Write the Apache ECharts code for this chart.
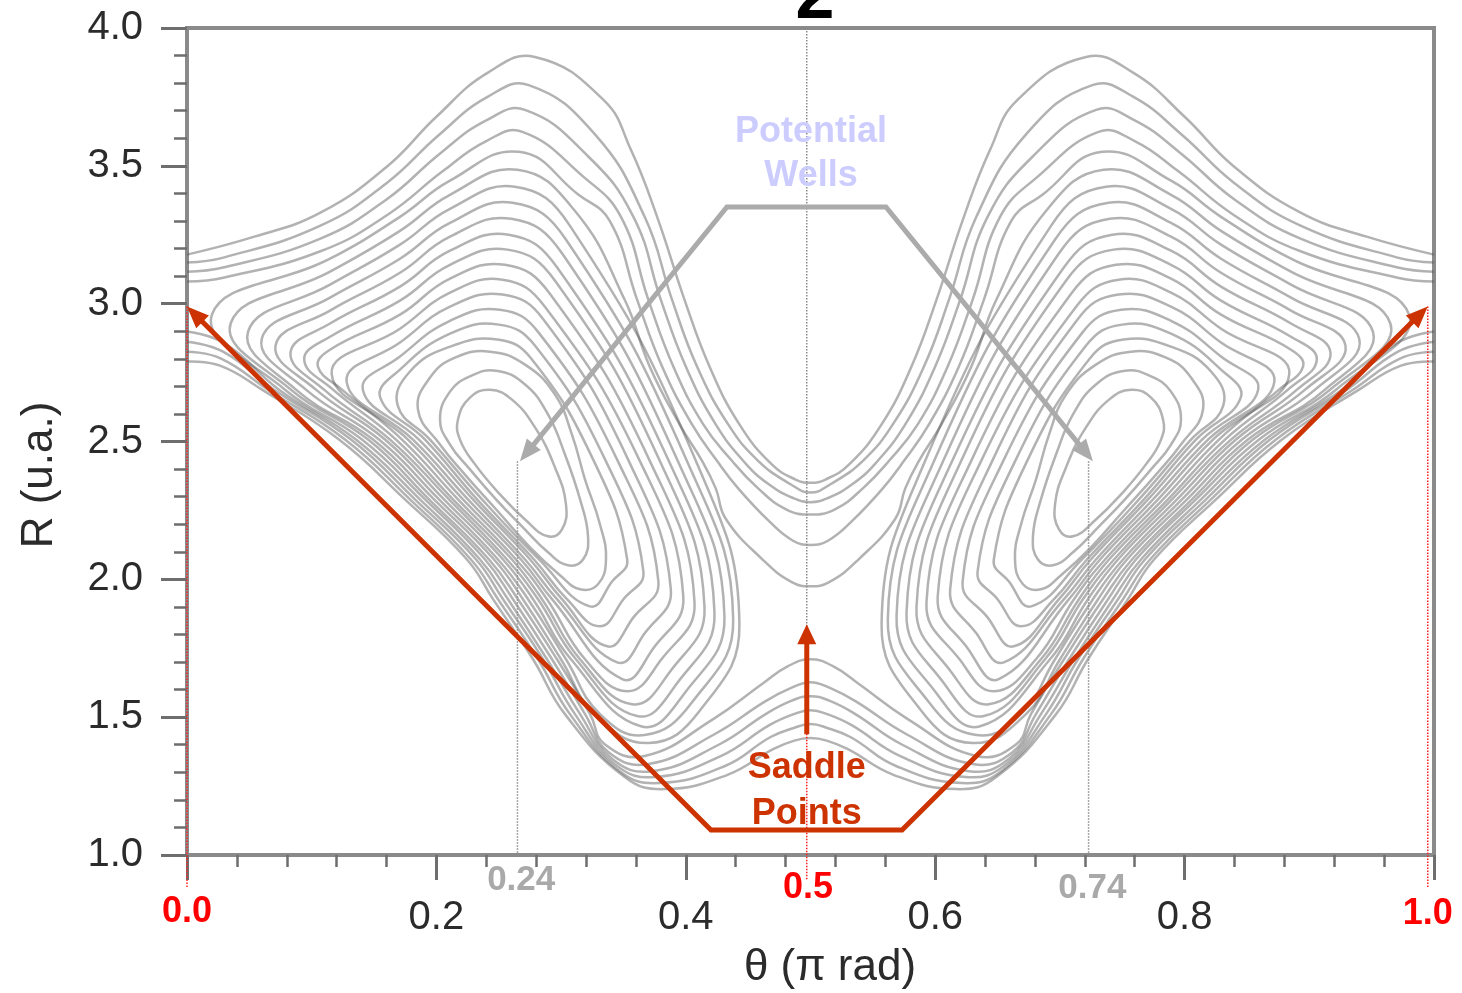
<!DOCTYPE html>
<html><head><meta charset="utf-8">
<script src="https://cdn.jsdelivr.net/npm/echarts/dist/echarts.min.js"></script>
<style>html,body{margin:0;padding:0;background:#fff}#c{width:1462px;height:993px}</style>
</head><body><div id="c"></div>
<script>
// ---------- axis tick labels ----------
const xTickLabels = {0.2:'0.2',0.4:'0.4',0.6:'0.6',0.8:'0.8'};
const yTickLabels = {1:'1.0',1.5:'1.5',2:'2.0',2.5:'2.5',3:'3.0',3.5:'3.5',4:'4.0'};

// ---------- contours around the left well (closed loops), [theta, R] ----------
const wellLoopsLeft = [
 [[0.2173,2.580],[0.2269,2.659],[0.2430,2.688],[0.2606,2.652],[0.2791,2.551],[0.2951,2.406],[0.3039,2.272],[0.3007,2.181],[0.2895,2.156],[0.2711,2.217],[0.2510,2.308],[0.2310,2.417],[0.2189,2.507]],
 [[0.2029,2.580],[0.2109,2.681],[0.2269,2.736],[0.2478,2.757],[0.2711,2.707],[0.2895,2.598],[0.3031,2.453],[0.3152,2.290],[0.3216,2.156],[0.3176,2.072],[0.3055,2.051],[0.2895,2.098],[0.2686,2.192],[0.2478,2.290],[0.2269,2.399],[0.2109,2.489]],
 [[0.1852,2.616],[0.1949,2.732],[0.2149,2.804],[0.2430,2.826],[0.2711,2.779],[0.2951,2.670],[0.3087,2.525],[0.3192,2.362],[0.3312,2.199],[0.3360,2.072],[0.3296,1.982],[0.3152,1.964],[0.2991,2.015],[0.2751,2.116],[0.2494,2.246],[0.2229,2.380],[0.2029,2.489]],
 [[0.169,2.630],[0.1788,2.754],[0.2109,2.844],[0.249,2.870],[0.276,2.801],[0.3264,2.428],[0.353,2.072],[0.341,1.993],[0.323,1.902],[0.2823,2.072],[0.2366,2.290],[0.1949,2.507]],
 [[0.155,2.659],[0.1708,2.761],[0.2109,2.891],[0.250,2.924],[0.279,2.848],[0.3360,2.428],[0.366,2.029],[0.350,1.928],[0.331,1.830],[0.3047,1.928],[0.2783,2.072],[0.2326,2.290],[0.1909,2.507]],
 [[0.141,2.688],[0.1708,2.808],[0.2109,2.938],[0.251,2.978],[0.282,2.895],[0.3456,2.428],[0.378,1.993],[0.358,1.862],[0.337,1.757],[0.3007,1.928],[0.2751,2.072],[0.2293,2.290],[0.1860,2.507]],
 [[0.128,2.717],[0.1708,2.859],[0.2109,2.989],[0.253,3.033],[0.286,2.942],[0.3544,2.428],[0.388,1.964],[0.367,1.804],[0.345,1.699],[0.2967,1.928],[0.2711,2.072],[0.2253,2.290],[0.1812,2.507]],
 [[0.116,2.746],[0.1708,2.909],[0.2109,3.040],[0.253,3.087],[0.287,2.989],[0.3633,2.428],[0.398,1.938],[0.374,1.750],[0.349,1.638],[0.2927,1.928],[0.2678,2.072],[0.2213,2.290],[0.1772,2.507]],
 [[0.105,2.772],[0.1147,2.833],[0.1708,2.960],[0.2109,3.091],[0.255,3.141],[0.291,3.036],[0.3713,2.428],[0.407,1.917],[0.380,1.707],[0.353,1.594],[0.3192,1.710],[0.2887,1.928],[0.2638,2.072],[0.2173,2.290],[0.1724,2.507],[0.1243,2.688]],
 [[0.094,2.797],[0.1147,2.880],[0.1708,3.011],[0.2109,3.141],[0.257,3.196],[0.295,3.084],[0.3793,2.428],[0.415,1.899],[0.387,1.663],[0.357,1.547],[0.3152,1.710],[0.2847,1.928],[0.2606,2.072],[0.2133,2.290],[0.1676,2.507],[0.1171,2.688]],
 [[0.083,2.822],[0.1147,2.928],[0.1708,3.062],[0.2109,3.192],[0.258,3.250],[0.297,3.130],[0.3865,2.428],[0.423,1.880],[0.393,1.623],[0.361,1.504],[0.3119,1.710],[0.2815,1.928],[0.2566,2.072],[0.2101,2.290],[0.1628,2.507],[0.1099,2.688]],
 [[0.071,2.848],[0.1147,2.975],[0.1708,3.112],[0.2109,3.243],[0.260,3.308],[0.301,3.181],[0.3937,2.428],[0.431,1.866],[0.399,1.587],[0.364,1.467],[0.3079,1.710],[0.2775,1.928],[0.2534,2.072],[0.2061,2.290],[0.1588,2.507],[0.1034,2.688]],
 [[0.060,2.873],[0.1147,3.022],[0.1708,3.163],[0.2109,3.293],[0.261,3.366],[0.304,3.232],[0.4010,2.428],[0.438,1.855],[0.405,1.554],[0.367,1.435],[0.3312,1.511],[0.3039,1.710],[0.2735,1.928],[0.2494,2.072],[0.2021,2.290],[0.1540,2.507],[0.0954,2.688]],
 [[0.049,2.899],[0.1147,3.069],[0.1708,3.214],[0.2109,3.344],[0.263,3.424],[0.307,3.283],[0.4082,2.428],[0.443,1.837],[0.411,1.522],[0.370,1.406],[0.3272,1.511],[0.2999,1.710],[0.2694,1.928],[0.2462,2.072],[0.1981,2.290],[0.1492,2.507],[0.0874,2.688]]
];

// ---------- contours crossing the central saddle (left half: from the V on top to the bump below) ----------
const saddleLoopsLeft = [
 [[0.5,1.975],[0.485,1.99],[0.462,2.07],[0.432,2.22],[0.424,2.33],[0.413,2.43],[0.395,2.562],[0.371,2.772],[0.351,3.014],[0.311,3.337],[0.265,3.486],[0.2109,3.395],[0.1708,3.264],[0.1147,3.116],[0.035,2.928],[0.0834,2.688],[0.1452,2.507],[0.1941,2.290],[0.2422,2.072],[0.2654,1.928],[0.2967,1.710],[0.3232,1.511],[0.335,1.402],[0.367,1.359],[0.422,1.493],[0.462,1.623],[0.482,1.685],[0.5,1.710]],
 [[0.5,2.125],[0.486,2.14],[0.467,2.21],[0.442,2.33],[0.425,2.43],[0.405,2.562],[0.381,2.772],[0.361,3.014],[0.339,3.3],[0.314,3.395],[0.266,3.551],[0.2109,3.446],[0.1708,3.315],[0.1147,3.163],[0.020,2.960],[0.0786,2.688],[0.1403,2.507],[0.1909,2.290],[0.2390,2.072],[0.2614,1.928],[0.2927,1.710],[0.3192,1.511],[0.338,1.373],[0.370,1.330],[0.423,1.438],[0.464,1.558],[0.484,1.605],[0.5,1.627]]
];

// ---------- contours crossing both the theta=0 and the central saddles (left half) ----------
const upperStrandsLeft = [
 [[0,3.080],[0.030,3.095],[0.107,3.190],[0.160,3.320],[0.205,3.480],[0.240,3.590],[0.269,3.623],[0.318,3.460],[0.348,3.315],[0.370,3.014],[0.390,2.772],[0.414,2.562],[0.437,2.43],[0.458,2.33],[0.48,2.255],[0.5,2.235]],
 [[0,3.116],[0.030,3.132],[0.107,3.236],[0.160,3.378],[0.203,3.545],[0.240,3.665],[0.271,3.703],[0.322,3.533],[0.358,3.315],[0.380,3.014],[0.400,2.772],[0.424,2.562],[0.448,2.42],[0.468,2.34],[0.486,2.295],[0.5,2.28]],
 [[0,3.149],[0.030,3.168],[0.107,3.283],[0.160,3.437],[0.202,3.612],[0.241,3.750],[0.274,3.793],[0.327,3.615],[0.367,3.315],[0.389,3.014],[0.409,2.772],[0.434,2.562],[0.458,2.43],[0.484,2.345],[0.5,2.315]],
 [[0,3.178],[0.054,3.243],[0.107,3.330],[0.160,3.496],[0.200,3.678],[0.241,3.837],[0.279,3.895],[0.334,3.739],[0.356,3.558],[0.377,3.315],[0.399,3.014],[0.419,2.772],[0.443,2.562],[0.469,2.417],[0.488,2.362],[0.5,2.35]]
];
const lowerStrandsLeft = [
 [[0,2.899],[0.0305,2.855],[0.0738,2.688],[0.1355,2.507],[0.1868,2.290],[0.2350,2.072],[0.2574,1.928],[0.2887,1.710],[0.3152,1.511],[0.341,1.348],[0.373,1.304],[0.426,1.399],[0.465,1.514],[0.485,1.56],[0.5,1.576]],
 [[0,2.862],[0.0289,2.826],[0.0698,2.688],[0.1315,2.507],[0.1828,2.290],[0.2318,2.072],[0.2534,1.928],[0.2855,1.710],[0.3111,1.511],[0.344,1.326],[0.376,1.283],[0.428,1.359],[0.467,1.471],[0.486,1.51],[0.5,1.525]],
 [[0,2.826],[0.0273,2.801],[0.0650,2.688],[0.1267,2.507],[0.1788,2.290],[0.2277,2.072],[0.2494,1.928],[0.2815,1.710],[0.3071,1.511],[0.347,1.304],[0.379,1.261],[0.431,1.322],[0.468,1.428],[0.486,1.46],[0.5,1.475]],
 [[0,2.790],[0.0265,2.775],[0.0601,2.688],[0.1219,2.507],[0.1748,2.290],[0.2245,2.072],[0.2454,1.928],[0.2775,1.710],[0.3031,1.511],[0.351,1.283],[0.383,1.239],[0.433,1.290],[0.470,1.384],[0.487,1.415],[0.5,1.424]]
];

// ---------- annotations ----------
const wellsArrowPath = [[0.267,2.428],[0.433,3.351],[0.5605,3.351],[0.7265,2.428]];
const saddleArrowPath = [[0.0,2.99],[0.4202,1.091],[0.5734,1.091],[0.995,2.99]];
const centerArrowPath = [[0.497,1.438],[0.497,1.837]];
const grayGuides = [[[0.265,2.428],[0.265,1.0]],[[0.723,2.428],[0.723,1.0]],[[0.497,4.0],[0.497,1.44]]];
const redGuides = [[[0.497,1.44],[0.497,0.91]],[[0.0,2.99],[0.0,0.88]],[[0.995,2.99],[0.995,0.88]]];
const markTexts = ['0.0','0.5','1.0','0.24','0.74'];
const markPos = [[0.0,0.793],[0.498,0.880],[0.995,0.786],[0.268,0.909],[0.726,0.880]];
const markKind = ['red','red','red','gray','gray'];
const noteTexts = ['Saddle\nPoints','Potential\nWells'];
const notePos = [[0.497,1.232],[0.5004,3.543]];

// ---------- build contour list (right half is the mirror image) ----------
const mirror = pts => pts.map(p => [1 - p[0], p[1]]);
const contours = [];
wellLoopsLeft.forEach(l => { contours.push({pts:l, closed:true}); contours.push({pts:mirror(l), closed:true}); });
saddleLoopsLeft.forEach(p => { const m = mirror(p).reverse(); contours.push({pts:p.concat(m.slice(1,-1)), closed:true}); });
upperStrandsLeft.concat(lowerStrandsLeft).forEach(p => { const m = mirror(p).reverse(); contours.push({pts:p.concat(m.slice(1)), closed:false}); });

const arrowDefs = [
 {pts:wellsArrowPath, color:'#ababab', width:5, start:true, end:true, head:[22,18]},
 {pts:saddleArrowPath, color:'#cc3300', width:5, start:true, end:true, head:[22,18]},
 {pts:centerArrowPath, color:'#cc3300', width:5, start:false, end:true, head:[20,19]}
];

const FONT = "'Liberation Sans', Arial, sans-serif";
const textDefs = markTexts.map((t,i) => ({text:t, pos:markPos[i],
    font: 'bold ' + (markKind[i]==='red' ? 36 : 35) + "px 'Liberation Sans', Arial",
    color: markKind[i]==='red' ? '#ff0000' : '#a9a9a9', lh: 40}))
  .concat(noteTexts.map((t,i) => ({text:t, pos:notePos[i], font:"bold 36px 'Liberation Sans', Arial",
    color: i===0 ? '#cc3300' : '#ccccff', lh: i===0 ? 46 : 44})));

function renderContour(params, api) {
  const c = contours[params.dataIndex];
  const pts = c.pts.map(p => api.coord(p));
  return {type: c.closed ? 'polygon' : 'polyline', silent:true,
    shape:{points:pts, smooth:0.45},
    style:{fill:'none', stroke:'rgba(85,85,85,0.45)', lineWidth:2.5}};
}
function renderArrow(params, api) {
  const a = arrowDefs[params.dataIndex];
  const px = a.pts.map(p => api.coord(p));
  const pts = px.slice();
  const children = [];
  const head = (tip, from) => {
    const dx = tip[0]-from[0], dy = tip[1]-from[1], L = Math.hypot(dx,dy);
    const ux = dx/L, uy = dy/L, len = a.head[0], hw = a.head[1]/2;
    const bx = tip[0]-ux*len, by = tip[1]-uy*len;
    return {base:[bx+ux*2,by+uy*2], poly:[tip,[bx-uy*hw,by+ux*hw],[bx+uy*hw,by-ux*hw]]};
  };
  if (a.end) { const h = head(px[px.length-1], px[px.length-2]); pts[pts.length-1] = h.base;
    children.push({type:'polygon', shape:{points:h.poly}, style:{fill:a.color}}); }
  if (a.start) { const h = head(px[0], px[1]); pts[0] = h.base;
    children.push({type:'polygon', shape:{points:h.poly}, style:{fill:a.color}}); }
  children.unshift({type:'polyline', shape:{points:pts}, style:{stroke:a.color, lineWidth:a.width, fill:'none', lineJoin:'miter'}});
  return {type:'group', children};
}
function renderText(params, api) {
  const d = textDefs[params.dataIndex];
  const p = api.coord(d.pos);
  return {type:'text', x:p[0], y:p[1], silent:true,
    style:{text:d.text, font:d.font, fill:d.color, align:'center', verticalAlign:'middle', lineHeight:d.lh}};
}

const series = [];
series.push({type:'custom', name:'contours', renderItem:renderContour, z:2,
  data: contours.map(c => c.pts[0]), encode:{x:0,y:1}, silent:true});
grayGuides.forEach(g => series.push({type:'line', data:g, symbol:'none', clip:false, z:3, silent:true,
  lineStyle:{color:'#8c8c8c', width:1.5, type:'dotted'}}));
redGuides.forEach(g => series.push({type:'line', data:g, symbol:'none', clip:false, z:3, silent:true,
  lineStyle:{color:'#ff2020', width:1.5, type:'dotted'}}));
series.push({type:'custom', name:'arrows', renderItem:renderArrow, z:5, clip:false, silent:true,
  data: arrowDefs.map(a => a.pts[0]), encode:{x:0,y:1}});
series.push({type:'custom', name:'texts', renderItem:renderText, z:6, clip:false, silent:true,
  data: textDefs.map(d => d.pos), encode:{x:0,y:1}});

const option = {
  animation:false,
  backgroundColor:'#ffffff',
  grid:{left:187, top:28, right:28, bottom:138, show:true, borderColor:'#8a8a8a', borderWidth:4},
  xAxis:{type:'value', min:0, max:1, interval:0.2,
    axisLine:{show:true, onZero:false, lineStyle:{color:'#8a8a8a', width:4}},
    axisTick:{show:true, length:25, lineStyle:{color:'#6e6e6e', width:3}},
    minorTick:{show:true, splitNumber:5, length:12, lineStyle:{color:'#6e6e6e', width:2.5}},
    splitLine:{show:false},
    axisLabel:{margin:43, fontSize:40, color:'#2b2b2b', fontFamily:FONT,
      formatter: v => xTickLabels[Math.round(v*10)/10] || ''}},
  yAxis:{type:'value', min:1, max:4, interval:0.5,
    axisLine:{show:true, onZero:false, lineStyle:{color:'#8a8a8a', width:4}},
    axisTick:{show:true, length:26, lineStyle:{color:'#6e6e6e', width:3}},
    minorTick:{show:true, splitNumber:5, length:13, lineStyle:{color:'#6e6e6e', width:2.5}},
    splitLine:{show:false},
    axisLabel:{margin:44, fontSize:40, color:'#2b2b2b', fontFamily:FONT,
      formatter: v => yTickLabels[Math.round(v*10)/10] || ''}},
  graphic:[
    {type:'text', x:815, y:34, z:10, style:{text:'2', font:"bold 70px 'Liberation Sans', Arial", fill:'#000', align:'center', textAlign:'center', verticalAlign:'bottom', textVerticalAlign:'bottom'}},
    {type:'text', x:830, y:968, z:10, style:{text:'θ (π rad)', font:"44px 'Liberation Sans', Arial", fill:'#2b2b2b', align:'center', textAlign:'center', verticalAlign:'middle', textVerticalAlign:'middle'}},
    {type:'text', x:40, y:475, rotation:Math.PI/2, z:10, style:{text:'R (u.a.)', font:"44px 'Liberation Sans', Arial", fill:'#2b2b2b', align:'center', textAlign:'center', verticalAlign:'middle', textVerticalAlign:'middle'}}
  ],
  series
};
const chart = echarts.init(document.getElementById('c'), null, {renderer:'canvas', width:1462, height:993});
chart.setOption(option);
</script></body></html>
